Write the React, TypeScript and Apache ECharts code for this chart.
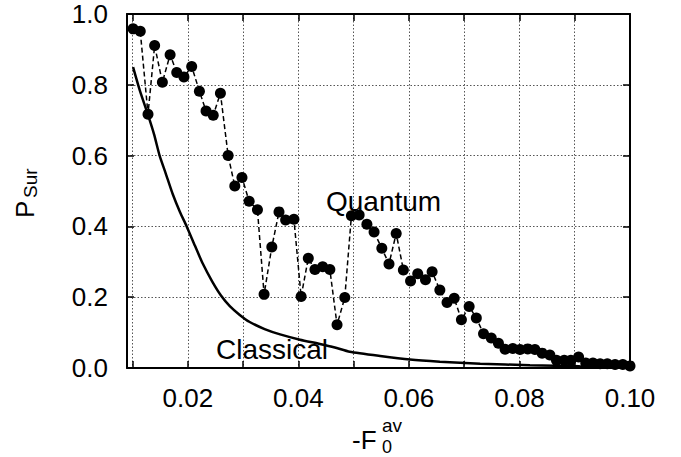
import React, { useEffect, useRef } from "react";
import * as echarts from "echarts";

const quantumX = [
  0.0101, 0.0114, 0.0128, 0.014, 0.0154, 0.0168, 0.018, 0.0193, 0.0207, 0.0221,
  0.0233, 0.0246, 0.0259, 0.0273, 0.0285, 0.0298, 0.0311, 0.0326, 0.0338, 0.0352,
  0.0365, 0.0377, 0.0392, 0.0405, 0.0418, 0.043, 0.0444, 0.0457, 0.047, 0.0484,
  0.0496, 0.051, 0.0524, 0.0537, 0.0551, 0.0564, 0.0577, 0.059, 0.0603, 0.0616,
  0.063, 0.0642, 0.0656, 0.0669, 0.0682, 0.0695, 0.0709, 0.0722, 0.0735, 0.0749,
  0.0762, 0.0774, 0.0788, 0.0801, 0.0815, 0.0828, 0.0841, 0.0855, 0.0867, 0.0881,
  0.0893, 0.0907, 0.092, 0.0933, 0.0946, 0.0959, 0.0973, 0.0987, 0.1,
];
const quantumY = [
  0.958, 0.951, 0.717, 0.911, 0.807, 0.885, 0.835, 0.822, 0.852, 0.782,
  0.726, 0.714, 0.776, 0.6, 0.514, 0.538, 0.471, 0.447, 0.208, 0.342,
  0.441, 0.418, 0.42, 0.202, 0.31, 0.278, 0.286, 0.278, 0.122, 0.199,
  0.43, 0.432, 0.406, 0.384, 0.338, 0.294, 0.38, 0.277, 0.246, 0.266,
  0.249, 0.272, 0.22, 0.185, 0.197, 0.136, 0.174, 0.141, 0.097, 0.085,
  0.07, 0.053, 0.055, 0.052, 0.054, 0.052, 0.042, 0.037, 0.022, 0.022,
  0.022, 0.031, 0.014, 0.014, 0.012, 0.012, 0.01, 0.01, 0.006,
];

const classicalX = [
  0.0101, 0.0113, 0.0128, 0.0139, 0.0149, 0.016, 0.0173, 0.0186, 0.0198, 0.0213,
  0.0227, 0.0244, 0.026, 0.0276, 0.0294, 0.0312, 0.0339, 0.0367, 0.0403, 0.0439,
  0.0466, 0.0493, 0.0548, 0.0602, 0.0656, 0.0729, 0.0819, 0.0909, 0.1,
];
const classicalY = [
  0.85, 0.785, 0.715, 0.66, 0.6, 0.55, 0.49, 0.44, 0.4, 0.345,
  0.295, 0.245, 0.205, 0.175, 0.15, 0.13, 0.11, 0.095, 0.08, 0.068,
  0.058, 0.046, 0.034, 0.024, 0.018, 0.012, 0.008, 0.005, 0.003,
];

const xTickValues = [0.01, 0.02, 0.03, 0.04, 0.05, 0.06, 0.07, 0.08, 0.09, 0.1];
const xLabelValues = [0.02, 0.04, 0.06, 0.08, 0.1];

const FONT = "Liberation Sans, Arial, Helvetica, sans-serif";

export default function App() {
  const ref = useRef<HTMLDivElement>(null);
  useEffect(() => {
    if (!ref.current) return;
    const chart = echarts.init(ref.current, undefined, { renderer: "svg" });
    const gridLine = { show: true, lineStyle: { color: "#555", width: 1, type: [1.5, 2] as any } };
    const axisLine = { show: true, onZero: false, lineStyle: { color: "#000", width: 2 } };
    const tick = { show: true, inside: true, length: 7, lineStyle: { color: "#000", width: 1.5 } };
    chart.setOption({
      animation: false,
      backgroundColor: "#fff",
      textStyle: { fontFamily: FONT },
      grid: { left: 127, right: 51, top: 14, bottom: 89, containLabel: false },
      xAxis: [
        {
          type: "value",
          min: 0.009,
          max: 0.1,
          position: "bottom",
          axisLine,
          axisTick: { ...tick, customValues: xTickValues },
          axisLabel: {
            show: true,
            customValues: xLabelValues,
            formatter: (v: number) => v.toFixed(2),
            fontSize: 26,
            color: "#000",
            margin: 17,
            fontFamily: FONT,
          },
          splitLine: gridLine,
        },
        {
          type: "value",
          min: 0.009,
          max: 0.1,
          position: "top",
          axisLine,
          axisTick: { ...tick, customValues: xTickValues },
          axisLabel: { show: false },
          splitLine: { show: false },
        },
      ],
      yAxis: [
        {
          type: "value",
          min: 0,
          max: 1,
          interval: 0.2,
          position: "left",
          axisLine,
          axisTick: tick,
          axisLabel: {
            formatter: (v: number) => v.toFixed(1),
            fontSize: 26,
            color: "#000",
            margin: 19,
            fontFamily: FONT,
          },
          splitLine: gridLine,
        },
        {
          type: "value",
          min: 0,
          max: 1,
          interval: 0.2,
          position: "right",
          axisLine,
          axisTick: tick,
          axisLabel: { show: false },
          splitLine: { show: false },
        },
      ],
      series: [
        {
          name: "Classical",
          type: "line",
          data: classicalX.map((x, i) => [x, classicalY[i]]),
          smooth: 0.2,
          showSymbol: false,
          symbol: "none",
          lineStyle: { color: "#000", width: 2.5 },
          z: 3,
        },
        {
          name: "Quantum",
          type: "line",
          data: quantumX.map((x, i) => [x, quantumY[i]]),
          symbol: "circle",
          symbolSize: 11,
          itemStyle: { color: "#000" },
          lineStyle: { color: "#000", width: 1.5, type: [5, 3] as any },
          clip: false,
          z: 4,
        },
      ],
      graphic: [
        { type: "text", x: 326, y: 201, z: 10, style: { text: "Quantum", font: `28px ${FONT}`, fill: "#000", verticalAlign: "middle", align: "left" } },
        { type: "text", x: 216, y: 349, z: 10, style: { text: "Classical", font: `28px ${FONT}`, fill: "#000", verticalAlign: "middle", align: "left" } },
        { type: "text", x: 352, y: 440, style: { text: "-F", font: `26px ${FONT}`, fill: "#000", verticalAlign: "middle", align: "left" } },
        { type: "text", x: 382, y: 425, style: { text: "av", font: `19px ${FONT}`, fill: "#000", verticalAlign: "middle", align: "left" } },
        { type: "text", x: 382, y: 447, style: { text: "0", font: `18px ${FONT}`, fill: "#000", verticalAlign: "middle", align: "left" } },
        { type: "text", x: 25, y: 218, rotation: Math.PI / 2, style: { text: "P", font: `26px ${FONT}`, fill: "#000", verticalAlign: "middle", align: "left" } },
        { type: "text", x: 30, y: 198, rotation: Math.PI / 2, style: { text: "Sur", font: `19px ${FONT}`, fill: "#000", verticalAlign: "middle", align: "left" } },
      ],
    });
    return () => chart.dispose();
  }, []);
  return <div ref={ref} style={{ position: "fixed", left: 0, top: 0, width: 681, height: 457 }} />;
}
